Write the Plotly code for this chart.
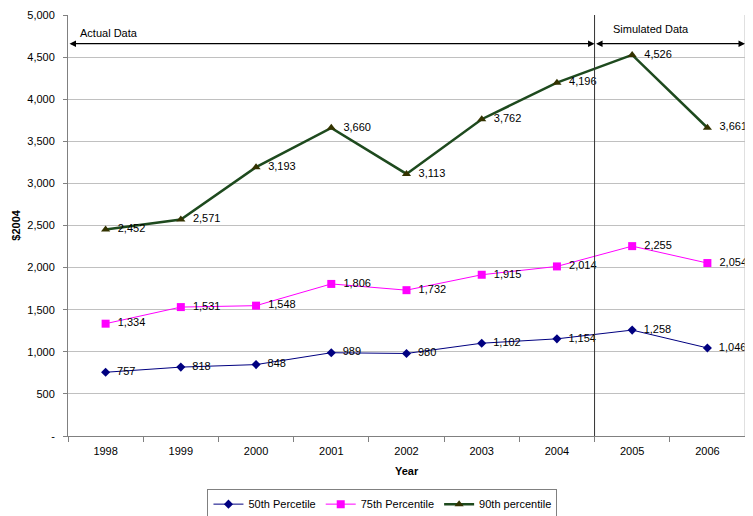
import plotly.graph_objects as go

years = ["1998", "1999", "2000", "2001", "2002", "2003", "2004", "2005", "2006"]
p50 = [757, 818, 848, 989, 980, 1102, 1154, 1258, 1046]
p75 = [1334, 1531, 1548, 1806, 1732, 1915, 2014, 2255, 2054]
p90 = [2452, 2571, 3193, 3660, 3113, 3762, 4196, 4526, 3661]
y_ticks = [0, 500, 1000, 1500, 2000, 2500, 3000, 3500, 4000, 4500, 5000]
y_labels = ["-", "500", "1,000", "1,500", "2,000", "2,500", "3,000", "3,500", "4,000", "4,500", "5,000"]

font = "Liberation Sans, Arial, sans-serif"
fig = go.Figure()

series = [
    ("50th Percetile", p50, "#000080", 1, "diamond", 7, "#000080"),
    ("75th Percentile", p75, "#FF00FF", 1, "square", 8, "#FF00FF"),
    ("90th percentile", p90, "#1E4A1E", 2.5, "triangle-up", 8, "#333300"),
]
for name, vals, lc, lw, sym, size, mc in series:
    fig.add_trace(go.Scatter(
        x=years, y=vals, name=name, mode="lines+markers+text",
        line=dict(color=lc, width=lw),
        marker=dict(symbol=sym, size=size, color=mc),
        texttemplate="  %{y:,}", textposition="middle right",
        textfont=dict(size=11, color="black"), cliponaxis=False))

# divider between actual and simulated data
fig.add_shape(type="line", xref="x", yref="paper", x0=6.5, x1=6.5, y0=0, y1=1,
              line=dict(color="#333333", width=1))

arrow_y = 4660
for x0, x1 in [(-0.5, 6.5), (6.5, 8.5)]:
    fig.add_annotation(x=x1, y=arrow_y, ax=x0, ay=arrow_y, xref="x", yref="y",
                       axref="x", ayref="y", text="", showarrow=True,
                       arrowhead=2, startarrowhead=2, arrowside="end+start",
                       arrowsize=1, arrowwidth=1.3, arrowcolor="black")
fig.add_annotation(x=0.05, y=4790, xref="x", yref="y", text="Actual Data",
                   showarrow=False, font=dict(size=11, color="black"))
fig.add_annotation(x=7.25, y=4835, xref="x", yref="y", text="Simulated Data",
                   showarrow=False, font=dict(size=11, color="black"))

# axis titles
fig.add_annotation(x=-0.078, y=0.5, xref="paper", yref="paper", xanchor="center",
                   yanchor="middle", text="<b>$2004</b>", textangle=-90,
                   showarrow=False, font=dict(size=11, color="black"))
fig.add_annotation(x=0.5, y=-0.083, xref="paper", yref="paper", xanchor="center",
                   yanchor="middle", text="<b>Year</b>", showarrow=False,
                   font=dict(size=11, color="black"))

fig.update_layout(
    width=745, height=508,
    margin=dict(l=60, r=8, t=7, b=80, autoexpand=False),
    paper_bgcolor="white", plot_bgcolor="white",
    font=dict(family=font, size=11, color="black"),
    showlegend=True,
    legend=dict(orientation="h", x=0.4645, xanchor="center", y=-0.125, yanchor="top",
                bordercolor="#808080", borderwidth=1, font=dict(size=11),
                itemwidth=30, tracegroupgap=0),
)
fig.update_xaxes(
    type="category", range=[-0.5, 8.5], tickson="boundaries",
    ticks="outside", ticklen=5, tickcolor="#808080", ticklabelstandoff=5,
    showline=True, linecolor="#808080", linewidth=1, mirror=False,
    showgrid=False, automargin=False,
)
fig.update_yaxes(
    range=[0, 5000], tickvals=y_ticks, ticktext=y_labels,
    ticks="outside", ticklen=4, tickcolor="#808080", ticklabelstandoff=6,
    showline=True, linecolor="#808080", linewidth=1,
    showgrid=True, gridcolor="#C0C0C0", gridwidth=1, zeroline=False,
    automargin=False,
)
# right border of the plot area
fig.add_shape(type="line", xref="paper", yref="paper", x0=1, x1=1, y0=0, y1=1,
              line=dict(color="#C0C0C0", width=1))

fig.write_html("out.html")
